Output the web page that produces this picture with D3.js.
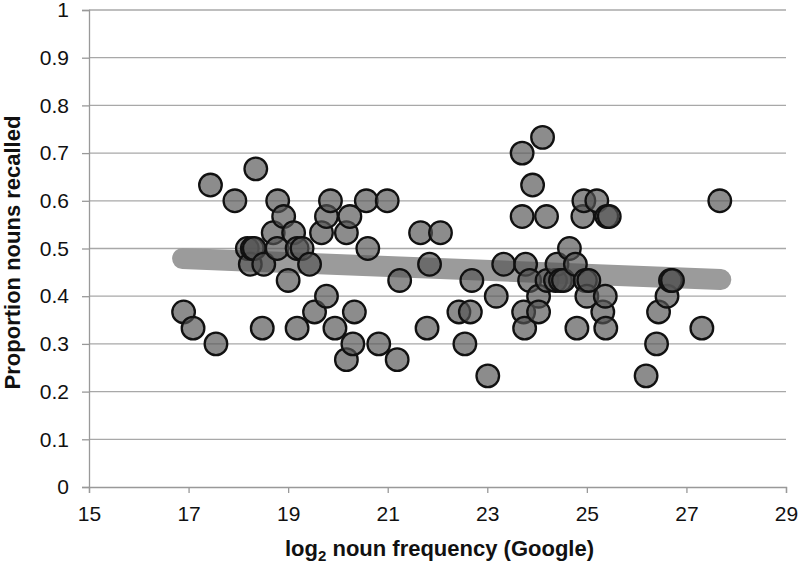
<!DOCTYPE html>
<html><head><meta charset="utf-8">
<script src="https://cdn.jsdelivr.net/npm/d3@7/dist/d3.min.js"></script>
<style>body{margin:0;background:#fff} svg{display:block}</style>
</head><body>
<svg id="c" width="800" height="563"></svg>
<script>
// log2 noun frequency (Google)
const freq = [
  16.90, 17.09, 17.44, 17.55, 17.93, 18.18, 18.24, 18.28, 18.32, 18.35,
  18.48, 18.51, 18.70, 18.78, 18.79, 18.91, 19.00, 19.11, 19.18, 19.18,
  19.28, 19.43, 19.53, 19.67, 19.77, 19.77, 19.85, 19.94, 20.17, 20.17,
  20.24, 20.30, 20.33, 20.57, 20.60, 20.82, 20.99, 21.19, 21.24, 21.66,
  21.79, 21.84, 22.06, 22.43, 22.55, 22.66, 22.69, 23.01, 23.18, 23.33,
  23.70, 23.70, 23.73, 23.75, 23.77, 23.85, 23.91, 24.03, 24.03, 24.11,
  24.19, 24.20, 24.37, 24.40, 24.47, 24.53, 24.65, 24.77, 24.80, 24.92,
  24.94, 24.97, 25.00, 25.04, 25.20, 25.32, 25.37, 25.38, 25.40, 25.45,
  26.19, 26.40, 26.44, 26.61, 26.68, 26.72, 27.31, 27.67
];
// Proportion nouns recalled
const recalled = [
  0.367, 0.333, 0.633, 0.300, 0.600, 0.500, 0.467, 0.500, 0.500, 0.667,
  0.333, 0.467, 0.533, 0.500, 0.600, 0.567, 0.433, 0.533, 0.500, 0.333,
  0.500, 0.467, 0.367, 0.533, 0.567, 0.400, 0.600, 0.333, 0.533, 0.267,
  0.567, 0.300, 0.367, 0.600, 0.500, 0.300, 0.600, 0.267, 0.433, 0.533,
  0.333, 0.467, 0.533, 0.367, 0.300, 0.367, 0.433, 0.233, 0.400, 0.467,
  0.700, 0.567, 0.367, 0.333, 0.467, 0.433, 0.633, 0.400, 0.367, 0.733,
  0.567, 0.433, 0.433, 0.467, 0.433, 0.433, 0.500, 0.467, 0.333, 0.567,
  0.600, 0.433, 0.400, 0.433, 0.600, 0.367, 0.400, 0.333, 0.567, 0.567,
  0.233, 0.300, 0.367, 0.400, 0.433, 0.433, 0.333, 0.600
];
// linear trend line end points
const trendFreq = [16.88, 27.69];
const trendRecalled = [0.479, 0.435];

const xTickValues = [15, 17, 19, 21, 23, 25, 27, 29];
const yTickValues = [0, 0.1, 0.2, 0.3, 0.4, 0.5, 0.6, 0.7, 0.8, 0.9, 1];
const yTickLabels = ["0", "0.1", "0.2", "0.3", "0.4", "0.5", "0.6", "0.7", "0.8", "0.9", "1"];

const svg = d3.select("#c");
const font = "Arial, 'Liberation Sans', Helvetica, sans-serif";
const x = d3.scaleLinear().domain([15, 29]).range([89, 786]);
const y = d3.scaleLinear().domain([0, 1]).range([487, 10]);

// gridlines
svg.append("g").selectAll("line").data(yTickValues.slice(1)).join("line")
  .attr("x1", x(15)).attr("x2", x(29))
  .attr("y1", d => y(d)).attr("y2", d => y(d))
  .attr("stroke", "#a8a8a8").attr("stroke-width", 1.3);

// y axis
const yAxis = svg.append("g").attr("transform", `translate(${x(15)},0)`)
  .call(d3.axisLeft(y).tickValues(yTickValues)
    .tickFormat((d, i) => yTickLabels[i]).tickSize(7).tickPadding(13));
yAxis.select(".domain").attr("stroke", "#999").attr("stroke-width", 1.3);
yAxis.selectAll(".tick line").attr("stroke", "#999").attr("stroke-width", 1.3);
yAxis.selectAll("text").attr("font-family", font).attr("font-size", 21).attr("fill", "#111");

// x axis
const xAxis = svg.append("g").attr("transform", `translate(0,${y(0)})`)
  .call(d3.axisBottom(x).tickValues(xTickValues).tickFormat(d3.format("d")).tickSize(6).tickPadding(13));
xAxis.select(".domain").attr("stroke", "#999").attr("stroke-width", 1.3);
xAxis.selectAll(".tick line").attr("stroke", "#999").attr("stroke-width", 1.3);
xAxis.selectAll("text").attr("font-family", font).attr("font-size", 21).attr("fill", "#111");

// trend line
const trend = trendFreq.map((f, i) => [f, trendRecalled[i]]);
svg.append("path")
  .attr("d", d3.line().x(d => x(d[0])).y(d => y(d[1]))(trend))
  .attr("fill", "none").attr("stroke", "#9b9b9b")
  .attr("stroke-width", 21).attr("stroke-linecap", "round");

// points
svg.append("g").selectAll("circle").data(freq.map((f, i) => [f, recalled[i]])).join("circle")
  .attr("cx", d => x(d[0])).attr("cy", d => y(d[1]))
  .attr("r", 11.3)
  .attr("fill", "rgba(85,85,85,0.68)")
  .attr("stroke", "#111").attr("stroke-width", 2.3);

// axis titles
const xt = svg.append("text").attr("x", (x(15) + x(29)) / 2 + 2).attr("y", 556)
  .attr("text-anchor", "middle").attr("font-family", font).attr("font-weight", "bold")
  .attr("font-size", 22).attr("fill", "#111");
xt.append("tspan").text("log");
xt.append("tspan").attr("font-size", 15).attr("dy", 5).text("2");
xt.append("tspan").attr("dy", -5).text(" noun frequency (Google)");

svg.append("text")
  .attr("transform", `translate(20,${(y(0) + y(1)) / 2 + 4}) rotate(-90)`)
  .attr("text-anchor", "middle").attr("font-family", font).attr("font-weight", "bold")
  .attr("font-size", 22).attr("fill", "#111")
  .text("Proportion nouns recalled");
</script>
</body></html>
